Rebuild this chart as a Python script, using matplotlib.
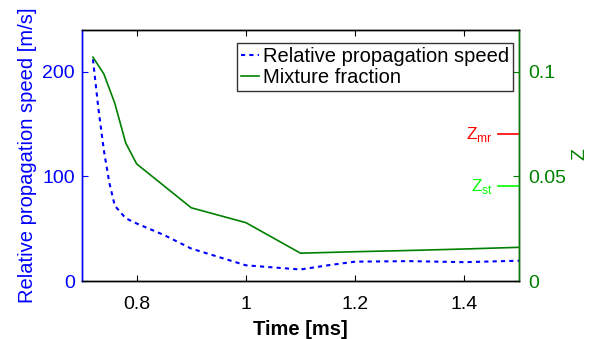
"""
Relative propagation speed and mixture fraction over time (plotyy-style).
"""

import numpy as np
import matplotlib
matplotlib.use("Agg")
import matplotlib.pyplot as plt
import matplotlib.transforms as mtransforms


time_speed = [0.72, 0.73, 0.74, 0.75, 0.76, 0.78, 0.80, 0.85, 0.90, 1.00, 1.10, 1.15, 1.20, 1.30, 1.40, 1.50]
speed = [212, 165, 125, 94, 72, 60, 55, 44, 31, 15, 11, 15, 18.5, 19, 18, 19.4]

time_z = [0.72, 0.74, 0.76, 0.78, 0.80, 0.90, 1.00, 1.10, 1.20, 1.30, 1.40, 1.50]
mix_frac = [0.107, 0.099, 0.085, 0.066, 0.056, 0.035, 0.0279, 0.0133, 0.0140, 0.0146, 0.0153, 0.0161]

z_marker_names = ["Z$_{\\mathregular{mr}}$", "Z$_{\\mathregular{st}}$"]
z_marker_values = [0.0702, 0.0453]
z_marker_colors = ["#ff0000", "#00ff00"]

BLUE = "#0000ff"
GREEN = "#008000"

plt.rcParams["font.family"] = ["Liberation Sans", "DejaVu Sans"]
plt.rcParams["mathtext.fontset"] = "custom"
plt.rcParams["mathtext.rm"] = "Liberation Sans"


def main():
    fig = plt.figure(figsize=(5.93, 3.39), dpi=100)
    ax = fig.add_axes([82 / 593, 58 / 339, 437 / 593, 251 / 339])
    ax2 = ax.twinx()

    l1, = ax.plot(time_speed, speed, color=BLUE, linestyle=(0, (2, 2)), linewidth=1.5,
                  label="Relative propagation speed")
    l2, = ax2.plot(time_z, mix_frac, color=GREEN, linewidth=1.2, label="Mixture fraction")

    ax.set_xlim(0.7, 1.5)
    ax.set_ylim(0, 240)
    ax2.set_ylim(0, 0.12)
    ax.set_xticks([0.8, 1.0, 1.2, 1.4])
    ax.set_xticklabels(["0.8", "1", "1.2", "1.4"])
    ax.set_yticks([0, 100, 200])
    ax2.set_yticks([0, 0.05, 0.1])
    ax2.set_yticklabels(["0", "0.05", "0.1"])

    ax.tick_params(axis="x", direction="in", top=True, labelsize=14, length=4, pad=11, colors="black")
    ax.tick_params(axis="y", direction="in", labelsize=14, length=4, colors=BLUE, pad=5)
    ax2.tick_params(axis="y", direction="in", labelsize=14, length=4, colors=GREEN, pad=7)

    ax.spines["left"].set_color(BLUE)
    ax2.spines["left"].set_color(BLUE)
    ax2.spines["right"].set_color(GREEN)
    for a in (ax, ax2):
        for s in a.spines.values():
            s.set_linewidth(1.0)

    ax.set_xlabel("Time [ms]", fontsize=14.5, fontweight="bold", labelpad=5)
    ax.set_ylabel("Relative propagation speed [m/s]", fontsize=14.5, color=BLUE, labelpad=4)
    ax2.set_ylabel("Z", fontsize=14, color=GREEN, rotation=90)
    ax2.yaxis.set_label_coords(1.14, 0.506)
    ax2.yaxis.label.set_va("center")
    ax2.yaxis.label.set_ha("center")

    # Z_mr / Z_st markers on the right axis
    trans = mtransforms.blended_transform_factory(ax2.transAxes, ax2.transData)
    for name, val, col in zip(z_marker_names, z_marker_values, z_marker_colors):
        ax2.plot([0.952, 1.0], [val, val], color=col, linewidth=1.2, transform=trans, clip_on=False)
        ax2.text(0.94, val, name, color=col, fontsize=12.5, transform=trans,
                 ha="right", va="center")

    leg = ax2.legend(handles=[l1, l2], loc="upper right", bbox_to_anchor=(0.986, 0.948),
                     fontsize=14.5, frameon=True, fancybox=False, handlelength=0.9,
                     handletextpad=0.2, borderpad=0.2, labelspacing=0.1, borderaxespad=0.0)
    leg.get_frame().set_edgecolor("black")
    leg.get_frame().set_linewidth(1.0)

    fig.savefig("out.png", dpi=100)
    plt.close(fig)


if __name__ == "__main__":
    main()
